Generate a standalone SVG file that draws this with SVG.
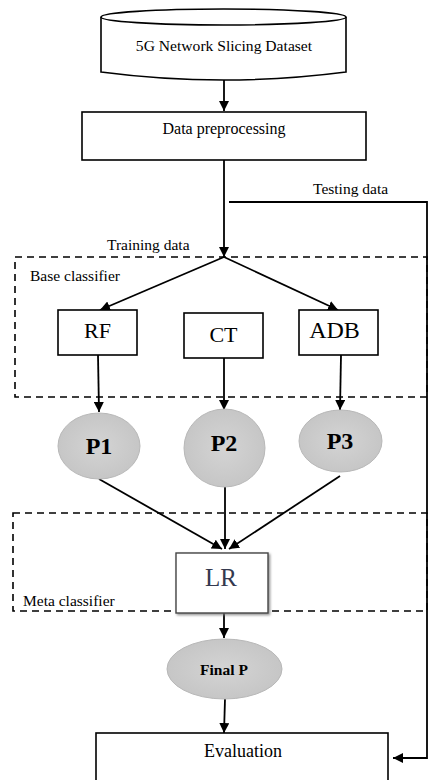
<svg xmlns="http://www.w3.org/2000/svg" width="429" height="780" viewBox="0 0 429 780">
  <defs>
    <marker id="arrow" viewBox="0 0 10 10" refX="10" refY="5" markerWidth="10" markerHeight="10" markerUnits="userSpaceOnUse" orient="auto">
      <path d="M0,0 L10,5 L0,10 Z" fill="#000"/>
    </marker>
    <radialGradient id="ballFill" cx="50%" cy="50%" r="50%">
      <stop offset="0%" stop-color="#d4d4d4"/>
      <stop offset="100%" stop-color="#c6c6c6"/>
    </radialGradient>
    <filter id="shadow" x="-10%" y="-10%" width="130%" height="130%">
      <feDropShadow dx="1.5" dy="1.5" stdDeviation="0.8" flood-color="#777" flood-opacity="0.8"/>
    </filter>
  </defs>
  <style>
    .box { fill: #fff; stroke: #000; stroke-width: 1.6; }
    .ball { fill: url(#ballFill); stroke: #b8b8b8; stroke-width: 1; }
    .group { fill: none; stroke: #000; stroke-width: 1.6; stroke-dasharray: 7 5; }
    .link { fill: none; stroke: #000; stroke-width: 1.8; }
    .t { font-family: "Liberation Serif", "Times New Roman", serif; fill: #000; }
    .lbl { font-size: 15.5px; }
    .cls { font-size: 22px; text-anchor: middle; }
    .p { font-size: 24px; font-weight: bold; text-anchor: middle; }
  </style>

  <rect width="429" height="780" fill="#fff"/>

  <!-- dashed group frames -->
  <g id="base-classifier-frame">
    <rect class="group" x="15" y="257" width="412" height="140"/>
    <text class="t lbl" x="30" y="281">Base classifier</text>
  </g>
  <g id="meta-classifier-frame">
    <rect class="group" x="13" y="513" width="414" height="98"/>
    <text class="t lbl" x="23" y="606">Meta classifier</text>
  </g>

  <!-- connectors -->
  <g id="connectors">
    <line class="link" x1="224" y1="80" x2="224" y2="111" marker-end="url(#arrow)"/>
    <line class="link" x1="224" y1="160" x2="224" y2="257" marker-end="url(#arrow)"/>
    <polyline class="link" points="229,202 427,202 427,758 393,758" marker-end="url(#arrow)"/>
    <line class="link" x1="224" y1="257" x2="100" y2="310" marker-end="url(#arrow)"/>
    <line class="link" x1="224" y1="257" x2="338" y2="310" marker-end="url(#arrow)"/>
    <line class="link" x1="98" y1="355" x2="99" y2="412" marker-end="url(#arrow)"/>
    <line class="link" x1="224" y1="358" x2="224" y2="410" marker-end="url(#arrow)"/>
    <line class="link" x1="341" y1="355" x2="340" y2="410" marker-end="url(#arrow)"/>
    <line class="link" x1="99" y1="479" x2="222" y2="549" marker-end="url(#arrow)"/>
    <line class="link" x1="225" y1="487" x2="225" y2="549" marker-end="url(#arrow)"/>
    <line class="link" x1="340" y1="476" x2="229" y2="549" marker-end="url(#arrow)"/>
    <line class="link" x1="224" y1="613" x2="224" y2="638" marker-end="url(#arrow)"/>
    <line class="link" x1="225" y1="699" x2="224" y2="733" marker-end="url(#arrow)"/>
    <text class="t lbl" x="313" y="194">Testing data</text>
    <text class="t lbl" x="107" y="250">Training data</text>
  </g>

  <!-- nodes -->
  <g id="dataset">
    <path d="M101,17 L101,72 Q223,88 346,72 L346,17" fill="#fff" stroke="#000" stroke-width="1.6"/>
    <ellipse cx="223.5" cy="17" rx="122.5" ry="8" fill="#fff" stroke="#000" stroke-width="1.6"/>
    <text class="t" x="224" y="51" font-size="15.6" text-anchor="middle">5G Network Slicing Dataset</text>
  </g>

  <g id="preprocessing">
    <rect class="box" x="82" y="112" width="284" height="48"/>
    <text class="t" x="224" y="134" font-size="16" text-anchor="middle">Data preprocessing</text>
  </g>

  <g id="rf">
    <rect class="box" x="58" y="310" width="79" height="45"/>
    <text class="t cls" x="97.5" y="338">RF</text>
  </g>
  <g id="ct">
    <rect class="box" x="184" y="313" width="79" height="45"/>
    <text class="t cls" x="223.5" y="342">CT</text>
  </g>
  <g id="adb">
    <rect class="box" x="299" y="310" width="79" height="45"/>
    <text class="t cls" x="334.5" y="338" style="font-size:24px">ADB</text>
  </g>

  <g id="p1">
    <ellipse class="ball" cx="99" cy="446" rx="41" ry="33"/>
    <text class="t p" x="99" y="454">P1</text>
  </g>
  <g id="p2">
    <ellipse class="ball" cx="224.5" cy="448" rx="40.5" ry="39"/>
    <text class="t p" x="224" y="451">P2</text>
  </g>
  <g id="p3">
    <ellipse class="ball" cx="340.5" cy="441" rx="41.5" ry="31"/>
    <text class="t p" x="340" y="449">P3</text>
  </g>

  <g id="lr">
    <rect x="176" y="553" width="92" height="60" fill="#fff" stroke="#444" stroke-width="1.4" filter="url(#shadow)"/>
    <text class="t" x="221" y="586" font-size="25" text-anchor="middle" style="fill:#34394f">LR</text>
  </g>

  <g id="final-p">
    <ellipse class="ball" cx="224.5" cy="669" rx="57.5" ry="30"/>
    <text class="t" x="224" y="675" font-size="15.5" font-weight="bold" text-anchor="middle">Final P</text>
  </g>

  <g id="evaluation">
    <rect class="box" x="96" y="733" width="292" height="60"/>
    <text class="t" x="243" y="757" font-size="18" text-anchor="middle">Evaluation</text>
  </g>
</svg>
